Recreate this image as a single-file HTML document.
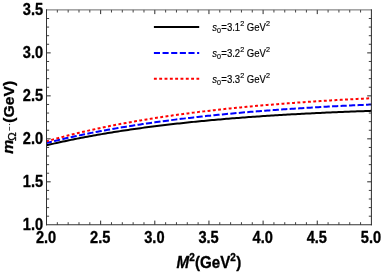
<!DOCTYPE html>
<html><head><meta charset="utf-8"><title>plot</title>
<style>
html,body{margin:0;padding:0;background:#fff;}
body{width:382px;height:273px;overflow:hidden;}
svg{display:block;will-change:transform;}
text{font-family:"Liberation Sans",sans-serif;}
.tl text{font-weight:bold;font-size:14.6px;fill:#000;stroke:#000;stroke-width:0.3px;stroke-linejoin:round;}
.lg text{font-size:9.4px;fill:#000;stroke:#000;stroke-width:0.15px;}
</style></head><body>
<svg width="382" height="273" viewBox="0 0 382 273">
<rect x="0" y="0" width="382" height="273" fill="#fff"/>
<g fill="none" stroke-width="2.0" stroke-linecap="butt" stroke-linejoin="round">
<path d="M46.50,145.28 L48.54,144.80 L50.59,144.32 L52.63,143.85 L54.67,143.38 L56.72,142.93 L58.76,142.47 L60.80,142.02 L62.85,141.58 L64.89,141.15 L66.93,140.71 L68.98,140.29 L71.02,139.87 L73.06,139.45 L75.11,139.04 L77.15,138.63 L79.19,138.23 L81.24,137.83 L83.28,137.44 L85.32,137.06 L87.37,136.67 L89.41,136.29 L91.45,135.92 L93.50,135.55 L95.54,135.19 L97.58,134.83 L99.63,134.47 L101.67,134.12 L103.72,133.77 L105.76,133.43 L107.80,133.09 L109.85,132.75 L111.89,132.42 L113.93,132.09 L115.98,131.77 L118.02,131.45 L120.06,131.13 L122.11,130.82 L124.15,130.51 L126.19,130.20 L128.24,129.90 L130.28,129.60 L132.32,129.30 L134.37,129.01 L136.41,128.72 L138.45,128.44 L140.50,128.16 L142.54,127.88 L144.58,127.60 L146.63,127.33 L148.67,127.06 L150.71,126.80 L152.76,126.53 L154.80,126.27 L156.84,126.02 L158.89,125.76 L160.93,125.51 L162.97,125.27 L165.02,125.02 L167.06,124.78 L169.10,124.54 L171.15,124.30 L173.19,124.07 L175.23,123.84 L177.28,123.61 L179.32,123.39 L181.36,123.16 L183.41,122.94 L185.45,122.73 L187.49,122.51 L189.54,122.30 L191.58,122.09 L193.62,121.88 L195.67,121.67 L197.71,121.47 L199.75,121.27 L201.80,121.07 L203.84,120.88 L205.88,120.68 L207.93,120.49 L209.97,120.31 L212.02,120.12 L214.06,119.93 L216.10,119.75 L218.15,119.57 L220.19,119.39 L222.23,119.22 L224.28,119.05 L226.32,118.87 L228.36,118.70 L230.41,118.54 L232.45,118.37 L234.49,118.21 L236.54,118.05 L238.58,117.89 L240.62,117.73 L242.67,117.57 L244.71,117.42 L246.75,117.27 L248.80,117.12 L250.84,116.97 L252.88,116.82 L254.93,116.68 L256.97,116.54 L259.01,116.40 L261.06,116.26 L263.10,116.12 L265.14,115.98 L267.19,115.85 L269.23,115.72 L271.27,115.59 L273.32,115.46 L275.36,115.33 L277.40,115.20 L279.45,115.08 L281.49,114.95 L283.53,114.83 L285.58,114.71 L287.62,114.59 L289.66,114.48 L291.71,114.36 L293.75,114.25 L295.79,114.14 L297.84,114.02 L299.88,113.92 L301.92,113.81 L303.97,113.70 L306.01,113.59 L308.05,113.49 L310.10,113.39 L312.14,113.29 L314.18,113.19 L316.23,113.09 L318.27,112.99 L320.32,112.89 L322.36,112.80 L324.40,112.70 L326.45,112.61 L328.49,112.52 L330.53,112.43 L332.58,112.34 L334.62,112.25 L336.66,112.17 L338.71,112.08 L340.75,112.00 L342.79,111.91 L344.84,111.83 L346.88,111.75 L348.92,111.67 L350.97,111.59 L353.01,111.51 L355.05,111.44 L357.10,111.36 L359.14,111.29 L361.18,111.21 L363.23,111.14 L365.27,111.07 L367.31,111.00 L369.36,110.93 L371.40,110.86" stroke="#000"/>
<path d="M46.50,142.99 L48.54,142.47 L50.59,141.96 L52.63,141.46 L54.67,140.96 L56.72,140.46 L58.76,139.97 L60.80,139.49 L62.85,139.02 L64.89,138.54 L66.93,138.08 L68.98,137.62 L71.02,137.16 L73.06,136.71 L75.11,136.27 L77.15,135.83 L79.19,135.39 L81.24,134.97 L83.28,134.54 L85.32,134.12 L87.37,133.71 L89.41,133.30 L91.45,132.89 L93.50,132.49 L95.54,132.09 L97.58,131.70 L99.63,131.31 L101.67,130.93 L103.72,130.55 L105.76,130.17 L107.80,129.80 L109.85,129.44 L111.89,129.07 L113.93,128.72 L115.98,128.36 L118.02,128.01 L120.06,127.66 L122.11,127.32 L124.15,126.98 L126.19,126.65 L128.24,126.31 L130.28,125.99 L132.32,125.66 L134.37,125.34 L136.41,125.02 L138.45,124.71 L140.50,124.40 L142.54,124.09 L144.58,123.79 L146.63,123.49 L148.67,123.19 L150.71,122.90 L152.76,122.61 L154.80,122.32 L156.84,122.04 L158.89,121.76 L160.93,121.48 L162.97,121.20 L165.02,120.93 L167.06,120.66 L169.10,120.40 L171.15,120.13 L173.19,119.87 L175.23,119.62 L177.28,119.36 L179.32,119.11 L181.36,118.86 L183.41,118.62 L185.45,118.37 L187.49,118.13 L189.54,117.89 L191.58,117.66 L193.62,117.42 L195.67,117.19 L197.71,116.97 L199.75,116.74 L201.80,116.52 L203.84,116.30 L205.88,116.08 L207.93,115.86 L209.97,115.65 L212.02,115.44 L214.06,115.23 L216.10,115.02 L218.15,114.82 L220.19,114.62 L222.23,114.42 L224.28,114.22 L226.32,114.03 L228.36,113.83 L230.41,113.64 L232.45,113.45 L234.49,113.27 L236.54,113.08 L238.58,112.90 L240.62,112.72 L242.67,112.54 L244.71,112.36 L246.75,112.19 L248.80,112.02 L250.84,111.85 L252.88,111.68 L254.93,111.51 L256.97,111.34 L259.01,111.18 L261.06,111.02 L263.10,110.86 L265.14,110.70 L267.19,110.55 L269.23,110.39 L271.27,110.24 L273.32,110.09 L275.36,109.94 L277.40,109.79 L279.45,109.64 L281.49,109.50 L283.53,109.36 L285.58,109.22 L287.62,109.08 L289.66,108.94 L291.71,108.80 L293.75,108.67 L295.79,108.53 L297.84,108.40 L299.88,108.27 L301.92,108.14 L303.97,108.01 L306.01,107.89 L308.05,107.76 L310.10,107.64 L312.14,107.52 L314.18,107.40 L316.23,107.28 L318.27,107.16 L320.32,107.04 L322.36,106.93 L324.40,106.81 L326.45,106.70 L328.49,106.59 L330.53,106.48 L332.58,106.37 L334.62,106.26 L336.66,106.16 L338.71,106.05 L340.75,105.95 L342.79,105.85 L344.84,105.74 L346.88,105.64 L348.92,105.55 L350.97,105.45 L353.01,105.35 L355.05,105.25 L357.10,105.16 L359.14,105.07 L361.18,104.97 L363.23,104.88 L365.27,104.79 L367.31,104.70 L369.36,104.61 L371.40,104.53" stroke="#0000ff" stroke-dasharray="6.2 2.3" stroke-dashoffset="0.66"/>
<path d="M46.50,141.35 L48.54,140.76 L50.59,140.18 L52.63,139.61 L54.67,139.04 L56.72,138.48 L58.76,137.93 L60.80,137.39 L62.85,136.85 L64.89,136.31 L66.93,135.79 L68.98,135.27 L71.02,134.75 L73.06,134.25 L75.11,133.74 L77.15,133.25 L79.19,132.76 L81.24,132.27 L83.28,131.79 L85.32,131.32 L87.37,130.85 L89.41,130.39 L91.45,129.93 L93.50,129.48 L95.54,129.04 L97.58,128.60 L99.63,128.16 L101.67,127.73 L103.72,127.30 L105.76,126.88 L107.80,126.46 L109.85,126.05 L111.89,125.64 L113.93,125.24 L115.98,124.84 L118.02,124.45 L120.06,124.06 L122.11,123.68 L124.15,123.30 L126.19,122.92 L128.24,122.55 L130.28,122.18 L132.32,121.82 L134.37,121.46 L136.41,121.11 L138.45,120.75 L140.50,120.41 L142.54,120.06 L144.58,119.72 L146.63,119.39 L148.67,119.06 L150.71,118.73 L152.76,118.40 L154.80,118.08 L156.84,117.77 L158.89,117.45 L160.93,117.14 L162.97,116.84 L165.02,116.53 L167.06,116.23 L169.10,115.94 L171.15,115.64 L173.19,115.35 L175.23,115.07 L177.28,114.78 L179.32,114.50 L181.36,114.23 L183.41,113.95 L185.45,113.68 L187.49,113.41 L189.54,113.15 L191.58,112.88 L193.62,112.63 L195.67,112.37 L197.71,112.12 L199.75,111.86 L201.80,111.62 L203.84,111.37 L205.88,111.13 L207.93,110.89 L209.97,110.65 L212.02,110.42 L214.06,110.18 L216.10,109.96 L218.15,109.73 L220.19,109.50 L222.23,109.28 L224.28,109.06 L226.32,108.85 L228.36,108.63 L230.41,108.42 L232.45,108.21 L234.49,108.00 L236.54,107.80 L238.58,107.59 L240.62,107.39 L242.67,107.19 L244.71,107.00 L246.75,106.80 L248.80,106.61 L250.84,106.42 L252.88,106.23 L254.93,106.05 L256.97,105.86 L259.01,105.68 L261.06,105.50 L263.10,105.32 L265.14,105.15 L267.19,104.97 L269.23,104.80 L271.27,104.63 L273.32,104.46 L275.36,104.30 L277.40,104.13 L279.45,103.97 L281.49,103.81 L283.53,103.65 L285.58,103.49 L287.62,103.34 L289.66,103.18 L291.71,103.03 L293.75,102.88 L295.79,102.73 L297.84,102.58 L299.88,102.44 L301.92,102.29 L303.97,102.15 L306.01,102.01 L308.05,101.87 L310.10,101.73 L312.14,101.60 L314.18,101.46 L316.23,101.33 L318.27,101.20 L320.32,101.06 L322.36,100.94 L324.40,100.81 L326.45,100.68 L328.49,100.56 L330.53,100.43 L332.58,100.31 L334.62,100.19 L336.66,100.07 L338.71,99.95 L340.75,99.84 L342.79,99.72 L344.84,99.61 L346.88,99.49 L348.92,99.38 L350.97,99.27 L353.01,99.16 L355.05,99.05 L357.10,98.94 L359.14,98.84 L361.18,98.73 L363.23,98.63 L365.27,98.53 L367.31,98.43 L369.36,98.33 L371.40,98.23" stroke="#ff0000" stroke-dasharray="2.9 2.406" stroke-dashoffset="0.38"/>
</g>
<g stroke="#2a2a2a">
<line x1="57.33" y1="224.8" x2="57.33" y2="222.20" stroke-width="0.9"/>
<line x1="57.33" y1="9.9" x2="57.33" y2="12.50" stroke-width="0.9"/>
<line x1="68.16" y1="224.8" x2="68.16" y2="222.20" stroke-width="0.9"/>
<line x1="68.16" y1="9.9" x2="68.16" y2="12.50" stroke-width="0.9"/>
<line x1="78.99" y1="224.8" x2="78.99" y2="222.20" stroke-width="0.9"/>
<line x1="78.99" y1="9.9" x2="78.99" y2="12.50" stroke-width="0.9"/>
<line x1="89.82" y1="224.8" x2="89.82" y2="222.20" stroke-width="0.9"/>
<line x1="89.82" y1="9.9" x2="89.82" y2="12.50" stroke-width="0.9"/>
<line x1="100.65" y1="224.8" x2="100.65" y2="220.60" stroke-width="1.0"/>
<line x1="100.65" y1="9.9" x2="100.65" y2="14.10" stroke-width="1.0"/>
<line x1="111.48" y1="224.8" x2="111.48" y2="222.20" stroke-width="0.9"/>
<line x1="111.48" y1="9.9" x2="111.48" y2="12.50" stroke-width="0.9"/>
<line x1="122.31" y1="224.8" x2="122.31" y2="222.20" stroke-width="0.9"/>
<line x1="122.31" y1="9.9" x2="122.31" y2="12.50" stroke-width="0.9"/>
<line x1="133.14" y1="224.8" x2="133.14" y2="222.20" stroke-width="0.9"/>
<line x1="133.14" y1="9.9" x2="133.14" y2="12.50" stroke-width="0.9"/>
<line x1="143.97" y1="224.8" x2="143.97" y2="222.20" stroke-width="0.9"/>
<line x1="143.97" y1="9.9" x2="143.97" y2="12.50" stroke-width="0.9"/>
<line x1="154.80" y1="224.8" x2="154.80" y2="220.60" stroke-width="1.0"/>
<line x1="154.80" y1="9.9" x2="154.80" y2="14.10" stroke-width="1.0"/>
<line x1="165.63" y1="224.8" x2="165.63" y2="222.20" stroke-width="0.9"/>
<line x1="165.63" y1="9.9" x2="165.63" y2="12.50" stroke-width="0.9"/>
<line x1="176.46" y1="224.8" x2="176.46" y2="222.20" stroke-width="0.9"/>
<line x1="176.46" y1="9.9" x2="176.46" y2="12.50" stroke-width="0.9"/>
<line x1="187.29" y1="224.8" x2="187.29" y2="222.20" stroke-width="0.9"/>
<line x1="187.29" y1="9.9" x2="187.29" y2="12.50" stroke-width="0.9"/>
<line x1="198.12" y1="224.8" x2="198.12" y2="222.20" stroke-width="0.9"/>
<line x1="198.12" y1="9.9" x2="198.12" y2="12.50" stroke-width="0.9"/>
<line x1="208.95" y1="224.8" x2="208.95" y2="220.60" stroke-width="1.0"/>
<line x1="208.95" y1="9.9" x2="208.95" y2="14.10" stroke-width="1.0"/>
<line x1="219.78" y1="224.8" x2="219.78" y2="222.20" stroke-width="0.9"/>
<line x1="219.78" y1="9.9" x2="219.78" y2="12.50" stroke-width="0.9"/>
<line x1="230.61" y1="224.8" x2="230.61" y2="222.20" stroke-width="0.9"/>
<line x1="230.61" y1="9.9" x2="230.61" y2="12.50" stroke-width="0.9"/>
<line x1="241.44" y1="224.8" x2="241.44" y2="222.20" stroke-width="0.9"/>
<line x1="241.44" y1="9.9" x2="241.44" y2="12.50" stroke-width="0.9"/>
<line x1="252.27" y1="224.8" x2="252.27" y2="222.20" stroke-width="0.9"/>
<line x1="252.27" y1="9.9" x2="252.27" y2="12.50" stroke-width="0.9"/>
<line x1="263.10" y1="224.8" x2="263.10" y2="220.60" stroke-width="1.0"/>
<line x1="263.10" y1="9.9" x2="263.10" y2="14.10" stroke-width="1.0"/>
<line x1="273.93" y1="224.8" x2="273.93" y2="222.20" stroke-width="0.9"/>
<line x1="273.93" y1="9.9" x2="273.93" y2="12.50" stroke-width="0.9"/>
<line x1="284.76" y1="224.8" x2="284.76" y2="222.20" stroke-width="0.9"/>
<line x1="284.76" y1="9.9" x2="284.76" y2="12.50" stroke-width="0.9"/>
<line x1="295.59" y1="224.8" x2="295.59" y2="222.20" stroke-width="0.9"/>
<line x1="295.59" y1="9.9" x2="295.59" y2="12.50" stroke-width="0.9"/>
<line x1="306.42" y1="224.8" x2="306.42" y2="222.20" stroke-width="0.9"/>
<line x1="306.42" y1="9.9" x2="306.42" y2="12.50" stroke-width="0.9"/>
<line x1="317.25" y1="224.8" x2="317.25" y2="220.60" stroke-width="1.0"/>
<line x1="317.25" y1="9.9" x2="317.25" y2="14.10" stroke-width="1.0"/>
<line x1="328.08" y1="224.8" x2="328.08" y2="222.20" stroke-width="0.9"/>
<line x1="328.08" y1="9.9" x2="328.08" y2="12.50" stroke-width="0.9"/>
<line x1="338.91" y1="224.8" x2="338.91" y2="222.20" stroke-width="0.9"/>
<line x1="338.91" y1="9.9" x2="338.91" y2="12.50" stroke-width="0.9"/>
<line x1="349.74" y1="224.8" x2="349.74" y2="222.20" stroke-width="0.9"/>
<line x1="349.74" y1="9.9" x2="349.74" y2="12.50" stroke-width="0.9"/>
<line x1="360.57" y1="224.8" x2="360.57" y2="222.20" stroke-width="0.9"/>
<line x1="360.57" y1="9.9" x2="360.57" y2="12.50" stroke-width="0.9"/>
<line x1="46.5" y1="216.20" x2="49.10" y2="216.20" stroke-width="0.9"/>
<line x1="371.4" y1="216.20" x2="368.80" y2="216.20" stroke-width="0.9"/>
<line x1="46.5" y1="207.61" x2="49.10" y2="207.61" stroke-width="0.9"/>
<line x1="371.4" y1="207.61" x2="368.80" y2="207.61" stroke-width="0.9"/>
<line x1="46.5" y1="199.01" x2="49.10" y2="199.01" stroke-width="0.9"/>
<line x1="371.4" y1="199.01" x2="368.80" y2="199.01" stroke-width="0.9"/>
<line x1="46.5" y1="190.42" x2="49.10" y2="190.42" stroke-width="0.9"/>
<line x1="371.4" y1="190.42" x2="368.80" y2="190.42" stroke-width="0.9"/>
<line x1="46.5" y1="181.82" x2="50.70" y2="181.82" stroke-width="1.0"/>
<line x1="371.4" y1="181.82" x2="367.20" y2="181.82" stroke-width="1.0"/>
<line x1="46.5" y1="173.22" x2="49.10" y2="173.22" stroke-width="0.9"/>
<line x1="371.4" y1="173.22" x2="368.80" y2="173.22" stroke-width="0.9"/>
<line x1="46.5" y1="164.63" x2="49.10" y2="164.63" stroke-width="0.9"/>
<line x1="371.4" y1="164.63" x2="368.80" y2="164.63" stroke-width="0.9"/>
<line x1="46.5" y1="156.03" x2="49.10" y2="156.03" stroke-width="0.9"/>
<line x1="371.4" y1="156.03" x2="368.80" y2="156.03" stroke-width="0.9"/>
<line x1="46.5" y1="147.44" x2="49.10" y2="147.44" stroke-width="0.9"/>
<line x1="371.4" y1="147.44" x2="368.80" y2="147.44" stroke-width="0.9"/>
<line x1="46.5" y1="138.84" x2="50.70" y2="138.84" stroke-width="1.0"/>
<line x1="371.4" y1="138.84" x2="367.20" y2="138.84" stroke-width="1.0"/>
<line x1="46.5" y1="130.24" x2="49.10" y2="130.24" stroke-width="0.9"/>
<line x1="371.4" y1="130.24" x2="368.80" y2="130.24" stroke-width="0.9"/>
<line x1="46.5" y1="121.65" x2="49.10" y2="121.65" stroke-width="0.9"/>
<line x1="371.4" y1="121.65" x2="368.80" y2="121.65" stroke-width="0.9"/>
<line x1="46.5" y1="113.05" x2="49.10" y2="113.05" stroke-width="0.9"/>
<line x1="371.4" y1="113.05" x2="368.80" y2="113.05" stroke-width="0.9"/>
<line x1="46.5" y1="104.46" x2="49.10" y2="104.46" stroke-width="0.9"/>
<line x1="371.4" y1="104.46" x2="368.80" y2="104.46" stroke-width="0.9"/>
<line x1="46.5" y1="95.86" x2="50.70" y2="95.86" stroke-width="1.0"/>
<line x1="371.4" y1="95.86" x2="367.20" y2="95.86" stroke-width="1.0"/>
<line x1="46.5" y1="87.26" x2="49.10" y2="87.26" stroke-width="0.9"/>
<line x1="371.4" y1="87.26" x2="368.80" y2="87.26" stroke-width="0.9"/>
<line x1="46.5" y1="78.67" x2="49.10" y2="78.67" stroke-width="0.9"/>
<line x1="371.4" y1="78.67" x2="368.80" y2="78.67" stroke-width="0.9"/>
<line x1="46.5" y1="70.07" x2="49.10" y2="70.07" stroke-width="0.9"/>
<line x1="371.4" y1="70.07" x2="368.80" y2="70.07" stroke-width="0.9"/>
<line x1="46.5" y1="61.48" x2="49.10" y2="61.48" stroke-width="0.9"/>
<line x1="371.4" y1="61.48" x2="368.80" y2="61.48" stroke-width="0.9"/>
<line x1="46.5" y1="52.88" x2="50.70" y2="52.88" stroke-width="1.0"/>
<line x1="371.4" y1="52.88" x2="367.20" y2="52.88" stroke-width="1.0"/>
<line x1="46.5" y1="44.28" x2="49.10" y2="44.28" stroke-width="0.9"/>
<line x1="371.4" y1="44.28" x2="368.80" y2="44.28" stroke-width="0.9"/>
<line x1="46.5" y1="35.69" x2="49.10" y2="35.69" stroke-width="0.9"/>
<line x1="371.4" y1="35.69" x2="368.80" y2="35.69" stroke-width="0.9"/>
<line x1="46.5" y1="27.09" x2="49.10" y2="27.09" stroke-width="0.9"/>
<line x1="371.4" y1="27.09" x2="368.80" y2="27.09" stroke-width="0.9"/>
<line x1="46.5" y1="18.50" x2="49.10" y2="18.50" stroke-width="0.9"/>
<line x1="371.4" y1="18.50" x2="368.80" y2="18.50" stroke-width="0.9"/>
</g>
<g stroke-linecap="square">
<line x1="46.5" y1="9.9" x2="371.4" y2="9.9" stroke="#5a5a5a" stroke-width="0.9"/>
<line x1="46.5" y1="224.8" x2="371.4" y2="224.8" stroke="#333333" stroke-width="1.05"/>
<line x1="46.5" y1="9.9" x2="46.5" y2="224.8" stroke="#333333" stroke-width="1.05"/>
<line x1="371.4" y1="9.9" x2="371.4" y2="224.8" stroke="#2a2a2a" stroke-width="1.0"/>
</g>
<g class="tl">
<text transform="translate(46.10,242.6) scale(1.0,1.14)" text-anchor="middle">2.0</text>
<text transform="translate(100.25,242.6) scale(1.0,1.14)" text-anchor="middle">2.5</text>
<text transform="translate(154.40,242.6) scale(1.0,1.14)" text-anchor="middle">3.0</text>
<text transform="translate(208.55,242.6) scale(1.0,1.14)" text-anchor="middle">3.5</text>
<text transform="translate(262.70,242.6) scale(1.0,1.14)" text-anchor="middle">4.0</text>
<text transform="translate(316.85,242.6) scale(1.0,1.14)" text-anchor="middle">4.5</text>
<text transform="translate(371.00,242.6) scale(1.0,1.14)" text-anchor="middle">5.0</text>
<text transform="translate(43.1,229.90) scale(1.0,1.14)" text-anchor="end">1.0</text>
<text transform="translate(43.1,186.92) scale(1.0,1.14)" text-anchor="end">1.5</text>
<text transform="translate(43.1,143.94) scale(1.0,1.14)" text-anchor="end">2.0</text>
<text transform="translate(43.1,100.96) scale(1.0,1.14)" text-anchor="end">2.5</text>
<text transform="translate(43.1,57.98) scale(1.0,1.14)" text-anchor="end">3.0</text>
<text transform="translate(43.1,15.00) scale(1.0,1.14)" text-anchor="end">3.5</text>
</g>
<g fill="none" stroke-width="2">
<line x1="153.9" y1="27.0" x2="199.2" y2="27.0" stroke="#000"/>
<line x1="153.9" y1="52.9" x2="199.2" y2="52.9" stroke="#0000ff" stroke-dasharray="6.1 2.54"/>
<line x1="153.9" y1="78.8" x2="199.2" y2="78.8" stroke="#ff0000" stroke-dasharray="2.9 2.42"/>
</g>
<g class="lg">
<text transform="translate(212.2,30.8) scale(1.018,1.08)"><tspan font-style="italic">s</tspan><tspan font-size="7.0" dy="1.9">0</tspan><tspan dy="-1.9" dx="0.35">=3.1</tspan><tspan font-size="7.1" dy="-4.5">2</tspan><tspan dy="4.5"> GeV</tspan><tspan font-size="7.1" dy="-4.5">2</tspan></text>
<text transform="translate(212.2,56.9) scale(1.018,1.08)"><tspan font-style="italic">s</tspan><tspan font-size="7.0" dy="1.9">0</tspan><tspan dy="-1.9" dx="0.35">=3.2</tspan><tspan font-size="7.1" dy="-4.5">2</tspan><tspan dy="4.5"> GeV</tspan><tspan font-size="7.1" dy="-4.5">2</tspan></text>
<text transform="translate(212.2,82.8) scale(1.018,1.08)"><tspan font-style="italic">s</tspan><tspan font-size="7.0" dy="1.9">0</tspan><tspan dy="-1.9" dx="0.35">=3.3</tspan><tspan font-size="7.1" dy="-4.5">2</tspan><tspan dy="4.5"> GeV</tspan><tspan font-size="7.1" dy="-4.5">2</tspan></text>
</g>
<g class="tl">
<text transform="translate(176.6,268.2) scale(1.035,1.15)"><tspan font-style="italic">M</tspan><tspan font-size="9.7" dy="-5.9">2</tspan><tspan dy="5.9" dx="0.3">(GeV</tspan><tspan font-size="9.7" dy="-5.9">2</tspan><tspan dy="5.9" dx="0.4">)</tspan></text>
<g transform="translate(13.3,153.8) rotate(-90)">
<text transform="translate(0,0) scale(1.08,1)" font-style="italic">m</text>
<text transform="translate(12.9,2.7) scale(1.1,1)" style="font-size:10.6px;font-weight:normal;stroke-width:0.3px">Ω</text>
<rect x="23.1" y="-4.1" width="4.0" height="0.8" fill="#222"/>
<ellipse cx="29.3" cy="-3.7" rx="0.75" ry="0.55" fill="#111"/>
<text transform="translate(31.1,0.2) scale(1.075,1)">(GeV)</text>
</g>
</g>
</svg>
</body></html>
